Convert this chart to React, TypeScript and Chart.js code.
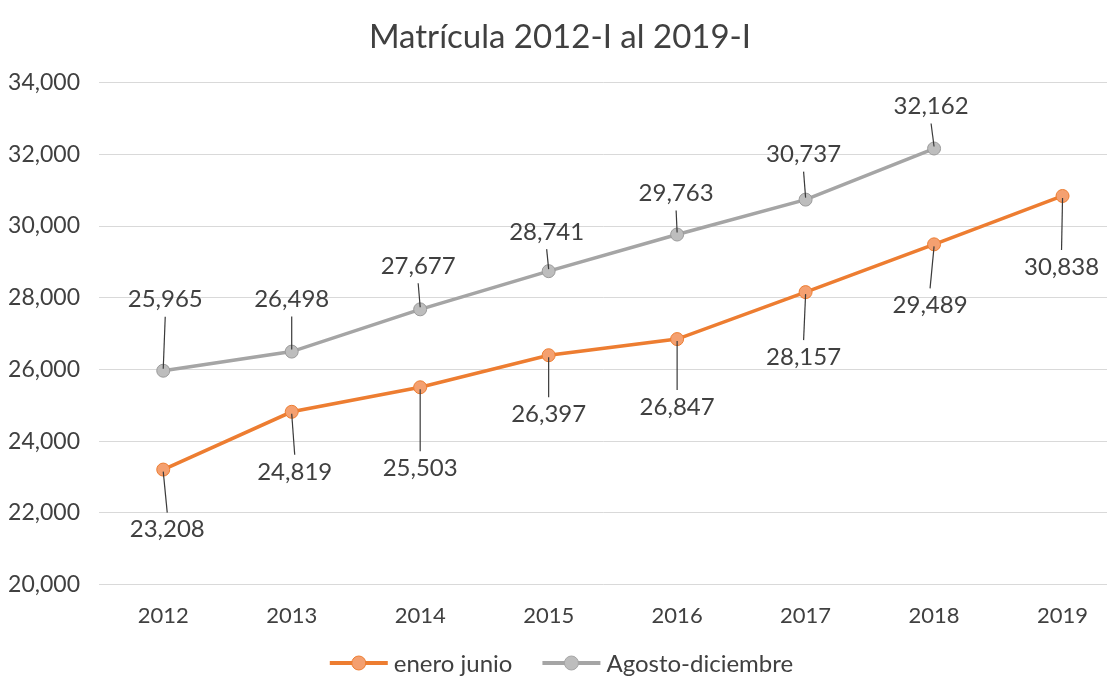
import React, { useEffect, useRef } from "react";
import { Chart, registerables } from "chart.js";

Chart.register(...registerables);

const years = [2012, 2013, 2014, 2015, 2016, 2017, 2018, 2019];
const eneroJunio = [23208, 24819, 25503, 26397, 26847, 28157, 29489, 30838];
const agostoDiciembre = [25965, 26498, 27677, 28741, 29763, 30737, 32162, null];
const yTicks = [20000, 22000, 24000, 26000, 28000, 30000, 32000, 34000];
const seriesNames = ["enero junio", "Agosto-diciembre"];
const titleText = "Matrícula 2012-I al 2019-I";

// label placement (pixel offsets from the point, like manually moved Excel labels)
const orangeLabelDy = [60, 60, 81, 59, 68, 65, 61, 71];
const orangeLabelDx = [4, 3, 0, 0, 0, -2, -4, -1];
const grayLabelDy = [-71, -52, -43, -39, -41, -45, -42, 0];
const grayLabelDx = [2, 0, -2, -2, -1, -2, -3, 0];

const ORANGE = "#ED7D31";
const ORANGE_FILL = "#F4A070";
const GRAY = "#A5A5A5";
const GRAY_FILL = "#BDBDBD";
const TEXT = "#404040";
const FONT = "Lato";

const labelPlugin = {
  id: "pointLabels",
  afterDatasetsDraw(chart: any) {
    const ctx = chart.ctx;
    ctx.save();
    ctx.font = `24px ${FONT}`;
    ctx.fillStyle = TEXT;
    ctx.textAlign = "center";
    ctx.textBaseline = "middle";
    chart.data.datasets.forEach((ds: any, di: number) => {
      const meta = chart.getDatasetMeta(di);
      const dyArr = di === 0 ? orangeLabelDy : grayLabelDy;
      const dxArr = di === 0 ? orangeLabelDx : grayLabelDx;
      meta.data.forEach((pt: any, i: number) => {
        const v = ds.data[i]?.y;
        if (v === null || v === undefined) return;
        const lx = pt.x + dxArr[i];
        const ly = pt.y + dyArr[i];
        const dir = dyArr[i] > 0 ? 1 : -1;
        const y1 = pt.y + dir * 2;
        const y2 = ly - dir * 17;
        if ((y2 - y1) * dir > 4) {
          ctx.strokeStyle = "#3a3a3a";
          ctx.lineWidth = 1.2;
          ctx.beginPath();
          ctx.moveTo(pt.x, y1);
          ctx.lineTo(lx, y2);
          ctx.stroke();
        }
        ctx.fillText(v.toLocaleString("en-US"), lx, ly);
      });
    });
    ctx.restore();
  },
};

const legendPlugin = {
  id: "lineLegend",
  afterDraw(chart: any) {
    const ctx = chart.ctx;
    const colors = [
      [ORANGE, ORANGE_FILL],
      [GRAY, GRAY_FILL],
    ];
    ctx.save();
    ctx.font = `24px ${FONT}`;
    ctx.textBaseline = "middle";
    ctx.textAlign = "left";
    const iconW = 58;
    const gapText = 6;
    const gapItem = 30;
    const widths = seriesNames.map((n) => ctx.measureText(n).width);
    const total =
      widths.reduce((a, b) => a + b, 0) + seriesNames.length * (iconW + gapText) + gapItem * (seriesNames.length - 1);
    let x = chart.width / 2 - total / 2;
    const y = chart.height - 17;
    seriesNames.forEach((n, i) => {
      const [line, fill] = colors[i];
      ctx.strokeStyle = line;
      ctx.lineWidth = 4;
      ctx.beginPath();
      ctx.moveTo(x, y);
      ctx.lineTo(x + iconW, y);
      ctx.stroke();
      ctx.fillStyle = fill;
      ctx.lineWidth = 1;
      ctx.beginPath();
      ctx.arc(x + iconW / 2, y, 7, 0, Math.PI * 2);
      ctx.fill();
      ctx.stroke();
      x += iconW + gapText;
      ctx.fillStyle = TEXT;
      ctx.fillText(n, x, y + 1);
      x += widths[i] + gapItem;
    });
    ctx.restore();
  },
};

export default function App() {
  const ref = useRef<HTMLCanvasElement>(null);
  useEffect(() => {
    let chart: Chart | null = null;
    let cancelled = false;
    const fontsReady = (document as any).fonts
      ? Promise.all([
          (document as any).fonts.load(`22px ${FONT}`),
          (document as any).fonts.load(`32px ${FONT}`),
        ]).catch(() => null)
      : Promise.resolve(null);
    fontsReady.then(() => {
      if (cancelled || !ref.current) return;
      chart = new Chart(ref.current, {
        type: "line",
        data: {
          datasets: [
            {
              label: seriesNames[0],
              data: years.map((y, i) => ({ x: y, y: eneroJunio[i] })),
              borderColor: ORANGE,
              backgroundColor: ORANGE,
              borderWidth: 3.5,
              pointRadius: 6.5,
              pointBorderWidth: 1,
              pointBorderColor: ORANGE,
              pointBackgroundColor: ORANGE_FILL,
              tension: 0,
            },
            {
              label: seriesNames[1],
              data: years.map((y, i) => ({ x: y, y: agostoDiciembre[i] as any })),
              borderColor: GRAY,
              backgroundColor: GRAY,
              borderWidth: 3.5,
              pointRadius: 6.5,
              pointBorderWidth: 1,
              pointBorderColor: "#9a9a9a",
              pointBackgroundColor: GRAY_FILL,
              tension: 0,
              spanGaps: false,
            },
          ],
        },
        options: {
          animation: false,
          responsive: true,
          maintainAspectRatio: false,
          layout: { padding: { left: 0, right: 3, top: 0, bottom: 33 } },
          plugins: {
            tooltip: { enabled: false },
            legend: { display: false },
            title: {
              display: true,
              text: titleText,
              color: TEXT,
              font: { family: FONT, size: 33, weight: "normal" },
              padding: { top: 10, bottom: 25 },
            },
          },
          scales: {
            x: {
              type: "linear",
              min: 2011.5,
              max: 2019.35,
              grid: { display: false, drawTicks: false },
              border: { display: false },
              afterBuildTicks: (axis: any) => {
                axis.ticks = years.map((v) => ({ value: v }));
              },
              afterFit: (axis: any) => {
                axis.paddingLeft = 0;
                axis.paddingRight = 0;
              },
              ticks: {
                color: TEXT,
                font: { family: FONT, size: 22 },
                padding: 18,
                callback: (v: any) => String(v),
              },
            },
            y: {
              min: yTicks[0],
              max: yTicks[yTicks.length - 1],
              afterBuildTicks: (axis: any) => {
                axis.ticks = yTicks.map((v) => ({ value: v }));
              },
              afterFit: (axis: any) => {
                axis.width = 91;
              },
              grid: { color: "#D9D9D9", lineWidth: 1, drawTicks: false },
              border: { display: false },
              ticks: {
                color: TEXT,
                font: { family: FONT, size: 23 },
                padding: 19,
                callback: (v: any) => Number(v).toLocaleString("en-US"),
              },
            },
          },
        },
        plugins: [labelPlugin, legendPlugin],
      });
    });
    return () => {
      cancelled = true;
      if (chart) chart.destroy();
    };
  }, []);
  return (
    <div style={{ width: 1107, height: 672, position: "relative" }}>
      <canvas ref={ref} />
    </div>
  );
}
